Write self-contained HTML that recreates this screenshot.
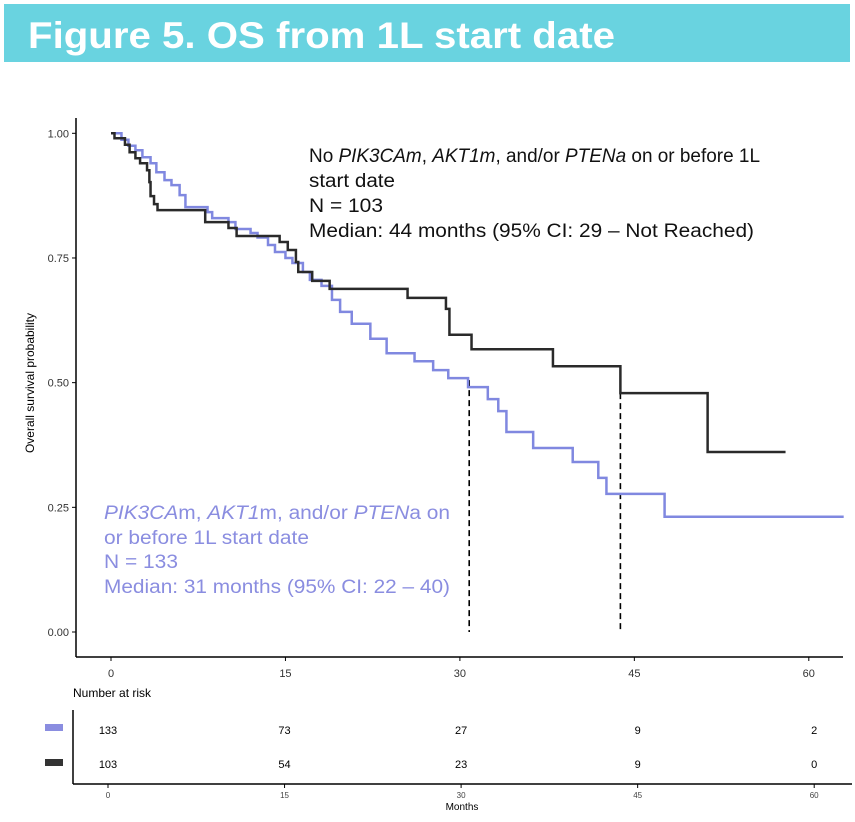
<!DOCTYPE html>
<html><head><meta charset="utf-8"><style>
body{margin:0;background:#fff;width:855px;height:817px;overflow:hidden;font-family:"Liberation Sans",sans-serif}
</style></head><body>
<svg width="855" height="817" viewBox="0 0 855 817" xmlns="http://www.w3.org/2000/svg" font-family="Liberation Sans, sans-serif">
<rect x="4" y="4" width="846" height="58" fill="#69d3e0"/>
<text x="28" y="48" font-size="37" font-weight="bold" fill="#fff" textLength="587" lengthAdjust="spacingAndGlyphs">Figure 5. OS from 1L start date</text>
<g id="plot"></g>
<text transform="translate(34,383) rotate(-90)" text-anchor="middle" font-size="12">Overall survival probability</text>
<g font-size="19" fill="#111">
<text x="309" y="162" textLength="451" lengthAdjust="spacingAndGlyphs">No  <tspan font-style="italic">PIK3CAm</tspan>, <tspan font-style="italic">AKT1m</tspan>, and/or <tspan font-style="italic">PTENa</tspan> on or before 1L</text>
<text x="309" y="187" textLength="86" lengthAdjust="spacingAndGlyphs">start date</text>
<text x="309" y="212" textLength="74" lengthAdjust="spacingAndGlyphs">N = 103</text>
<text x="309" y="237" textLength="445" lengthAdjust="spacingAndGlyphs">Median: 44 months (95% CI: 29 – Not Reached)</text>
</g>
<g font-size="19" fill="#8a8de0">
<text x="104" y="519" textLength="346" lengthAdjust="spacingAndGlyphs"><tspan font-style="italic">PIK3CA</tspan>m, <tspan font-style="italic">AKT1</tspan>m, and/or <tspan font-style="italic">PTEN</tspan>a on</text>
<text x="104" y="544" textLength="205" lengthAdjust="spacingAndGlyphs">or before 1L start date</text>
<text x="104" y="568" textLength="74" lengthAdjust="spacingAndGlyphs">N = 133</text>
<text x="104" y="593" textLength="346" lengthAdjust="spacingAndGlyphs">Median: 31 months (95% CI: 22 – 40)</text>
</g>
<text x="73" y="697" font-size="12">Number at risk</text>
<rect x="45" y="724" width="18" height="7" fill="#8a8de0"/>
<rect x="45" y="759" width="18" height="7" fill="#333"/>
<line x1="73" y1="710" x2="73" y2="784" stroke="#000" stroke-width="1.5"/>
<line x1="73" y1="784" x2="852" y2="784" stroke="#000" stroke-width="1.5"/>
<g id="risk"></g>
<text x="462" y="810" font-size="10" text-anchor="middle">Months</text>
</svg>
<script>
const xTicks=[0,15,30,45,60];
const yTicks=[0,0.25,0.5,0.75,1];
const blueTimes=[0,0.9,1.5,2.1,2.7,3.4,3.9,4.6,5.2,5.9,6.4,8.3,8.7,10.1,10.7,12.0,12.6,13.5,14.1,15.0,15.6,16.5,17.1,18.1,19.0,19.7,20.7,22.3,23.7,26.1,27.7,29.0,30.7,32.4,33.3,34.0,36.3,39.7,41.9,42.6,47.6];
const blueSurv=[1,0.987,0.975,0.966,0.952,0.94,0.922,0.906,0.896,0.876,0.852,0.842,0.83,0.822,0.808,0.8,0.791,0.776,0.762,0.75,0.74,0.722,0.706,0.694,0.666,0.642,0.618,0.588,0.559,0.543,0.525,0.509,0.491,0.467,0.443,0.401,0.369,0.341,0.309,0.277,0.231];
const blueEnd=63;
const blackTimes=[0,0.3,1.2,1.6,2.1,2.5,3.1,3.3,3.4,3.7,4.0,8.1,10.1,10.8,14.5,15.2,15.9,16.1,17.3,18.8,25.5,28.8,29.1,31.0,38.0,43.8,51.3];
const blackSurv=[1,0.99,0.977,0.962,0.95,0.94,0.926,0.902,0.874,0.858,0.846,0.822,0.81,0.794,0.782,0.766,0.742,0.722,0.704,0.688,0.67,0.648,0.596,0.567,0.533,0.479,0.361];
const blackEnd=58;
const medians=[30.8,43.8];
const riskBlue=[133,73,27,9,2];
const riskBlack=[103,54,23,9,0];
const NS="http://www.w3.org/2000/svg";
const X=t=>111+t*11.63, Y=s=>632-s*498.7, RX=t=>108+t*11.77;
function mk(tag,attrs,parent,txt){const e=document.createElementNS(NS,tag);for(const k in attrs)e.setAttribute(k,attrs[k]);if(txt!==undefined)e.textContent=txt;parent.appendChild(e);return e;}
const plot=document.getElementById('plot');
let ax=mk('line',{x1:76,y1:118,x2:76,y2:657,stroke:'#000','stroke-width':1.5},plot);

let bx=mk('line',{x1:76,y1:657,x2:843,y2:657,stroke:'#000','stroke-width':1.5},plot);

yTicks.forEach(v=>{
 let l=mk('line',{x1:72,y1:Y(v),x2:76,y2:Y(v),stroke:'#000'},plot);
 
 let t=mk('text',{x:69,y:Y(v)+4,'text-anchor':'end','font-size':11,fill:'#333'},plot,v.toFixed(2));
 
});
xTicks.forEach(v=>{
 let l=mk('line',{x1:X(v),y1:657,x2:X(v),y2:661,stroke:'#000'},plot);
 
 let t=mk('text',{x:X(v),y:677,'text-anchor':'middle','font-size':11,fill:'#333'},plot,String(v));
 
});
function stepPath(ts,ss,end){let d='M'+X(ts[0])+','+Y(ss[0]);for(let i=1;i<ts.length;i++){d+='H'+X(ts[i])+'V'+Y(ss[i]);}d+='H'+X(end);return d;}
medians.forEach((m,i)=>{
 const s=i==0?0.505:0.479;
 let l=mk('line',{x1:X(m),y1:Y(s),x2:X(m),y2:Y(0),stroke:'#000','stroke-width':1.6,'stroke-dasharray':'6,4'},plot);
 
});
let pb=mk('path',{d:stepPath(blueTimes,blueSurv,blueEnd),fill:'none',stroke:'#8088e0','stroke-width':2.5},plot);

let pk=mk('path',{d:stepPath(blackTimes,blackSurv,blackEnd),fill:'none',stroke:'#2a2a2a','stroke-width':2.5},plot);

const risk=document.getElementById('risk');
xTicks.forEach((v,i)=>{
 let a=mk('text',{x:RX(v),y:734,'text-anchor':'middle','font-size':11},risk,String(riskBlue[i]));
 
 let b=mk('text',{x:RX(v),y:768,'text-anchor':'middle','font-size':11},risk,String(riskBlack[i]));
 
 let l=mk('line',{x1:RX(v),y1:784,x2:RX(v),y2:788,stroke:'#000'},risk);
 
 let t=mk('text',{x:RX(v),y:798,'text-anchor':'middle','font-size':8,fill:'#444'},risk,String(v));
 
});
</script>
</body></html>
